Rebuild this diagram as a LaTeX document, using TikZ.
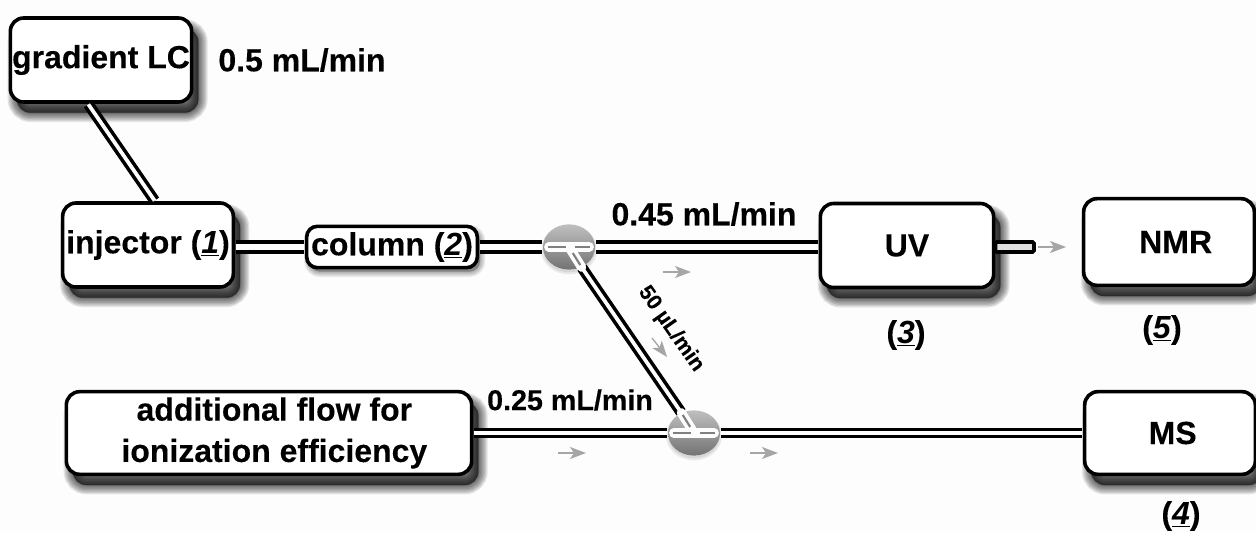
\documentclass[tikz,border=0pt]{standalone}
\usepackage{fontspec}
\setmainfont[BoldFeatures={FakeBold=0.25}]{Liberation Sans}
\usetikzlibrary{arrows.meta,shapes.geometric,calc}
\definecolor{pagebg}{HTML}{FDFDFD}
\tikzset{
  sh/.style={preaction={draw=black,fill=black,line width=#1,opacity=.1,transform canvas={shift={(5pt,-8pt)}}}},
  softshadow/.style={sh=14pt,sh=12pt,sh=10pt,sh=8pt,sh=6pt,sh=4pt,sh=2pt,sh=1pt},
  smallsh/.style={preaction={draw=black,fill=black,line width=#1,opacity=.08,transform canvas={shift={(2pt,-3pt)}}}},
  smallshadow/.style={smallsh=8pt,smallsh=6pt,smallsh=4pt,smallsh=2pt},
  boxnode/.style={softshadow,draw=black,fill=white,line width=2.7pt,rounded corners=10pt,inner sep=0pt,
    font=\fontsize{24}{31}\selectfont\bfseries,align=center},
  label/.style={font=\fontsize{24}{28}\selectfont\bfseries,inner sep=0pt},
  pipe/.style={draw=black,line width=3pt,double=white,double distance=4.2pt,shorten >=.5pt,shorten <=.5pt},
  thinpipe/.style={draw=black,line width=2.7pt,double=white,double distance=2.8pt,shorten >=.5pt,shorten <=.5pt},
  splitter/.style={ellipse,minimum width=39pt,minimum height=34pt,inner sep=0pt,draw=none,
    top color=gray!50,bottom color=gray!90!black,
    preaction={draw=black,fill=black,line width=3pt,opacity=.08,transform canvas={shift={(0pt,-2pt)}}}},
  bandwhite/.style={draw=pagebg,line width=7pt,line cap=round},
  bandgrey/.style={draw=gray,line width=1.6pt},
  flow/.style={draw=gray!70,line width=1pt,-{Stealth[length=12pt,width=9pt,inset=3pt]}},
}
\begin{document}
\begin{tikzpicture}[x=0.75pt,y=-0.75pt]
\useasboundingbox[fill=pagebg] (0,0) rectangle (1256,532);
% boxes
\node[boxnode,minimum width=136pt,minimum height=63pt] (grad) at (101,60) {gradient LC};
\node[boxnode,minimum width=128pt,minimum height=63pt] (inj) at (148,245) {injector (\underline{\textit{1}})};
\node[draw=black,fill=white,smallshadow,line width=2.7pt,rounded corners=8pt,inner sep=0pt,font=\fontsize{24}{31}\selectfont\bfseries,minimum width=128pt,minimum height=31pt] (col) at (392,247) {column (\underline{\textit{2}})};
\node[boxnode,minimum width=130pt,minimum height=63pt] (uv) at (907,245.5) {UV};
\node[boxnode,minimum width=128pt,minimum height=65pt] (nmr) at (1169,242) {\hspace*{10pt}NMR};
\node[boxnode,minimum width=128pt,minimum height=62pt] (ms) at (1170,433) {\hspace*{4pt}MS};
\node[boxnode,minimum width=304pt,minimum height=62pt] (add) at (269,433) {\hspace*{8pt}additional flow for\\ \hspace*{8pt}ionization efficiency};
% splitters
\node[splitter] (s1) at (569,247) {};
\node[splitter] (s2) at (694,433) {};
% pipes
\draw[thinpipe] ($(grad.south)+(-13,0)$) -- ($(inj.north)+(7,0)$);
\draw[pipe] (inj.east |- col.east) -- (col.west);
\draw[pipe] (col.east) -- (s1.west);
\draw[pipe] (s1.east) -- (uv.west |- s1.east);
\draw[thinpipe] (s1.-58) -- (s2.122);
\draw[thinpipe] (add.east |- s2.west) -- (s2.west);
\draw[thinpipe] (s2.east) -- (ms.west |- s2.east);
% stub from UV
\coordinate (stubend) at (1034,247);
\draw[line width=2.7pt,fill=gray!25,rounded corners=1pt] (uv.east |- stubend) ++(0,-5) rectangle ($(stubend)+(0,5)$);
% splitter bands
\draw[bandwhite] (s1.center) -- (s1.-58);
\draw[bandgrey] ($(s1.center)!0.3!(s1.-58)$) -- ($(s1.center)!0.9!(s1.-58)$);
\draw[bandwhite] ($(s1.west)+(6,0)$) -- ($(s1.east)+(-6,0)$);
\draw[bandgrey] ($(s1.west)+(5,0)$) -- ($(s1.center)+(-3,0)$);
\draw[bandgrey] ($(s1.center)+(6,0)$) -- ($(s1.east)+(-5,0)$);
\draw[bandwhite] (s2.center) -- (s2.122);
\draw[bandgrey] ($(s2.center)!0.3!(s2.122)$) -- ($(s2.center)!0.9!(s2.122)$);
\draw[bandwhite] ($(s2.west)+(6,0)$) -- ($(s2.east)+(-6,0)$);
\draw[bandgrey] ($(s2.west)+(5,0)$) -- ($(s2.center)+(-3,0)$);
\draw[bandgrey] ($(s2.center)+(6,0)$) -- ($(s2.east)+(-5,0)$);
% flow arrows
\coordinate (a1s) at (663,272); \coordinate (a1e) at (691,272);
\coordinate (a2s) at (652,338); \coordinate (a2e) at (667,357);
\coordinate (a3s) at (558,453); \coordinate (a3e) at (586,453);
\coordinate (a4s) at (750,453); \coordinate (a4e) at (778,453);
\coordinate (a5s) at (1038,247); \coordinate (a5e) at (1066,247);
\draw[flow] (a1s) -- (a1e);
\draw[flow] (a2s) -- (a2e);
\draw[flow] (a3s) -- (a3e);
\draw[flow] (a4s) -- (a4e);
\draw[flow] (a5s) -- (a5e);
% labels
\node[label] (l1) at (302,60) {0.5 mL/min};
\node[label] (l2) at (704,214) {0.45 mL/min};
\node[label,font=\fontsize{21.5}{25}\selectfont\bfseries] (l3) at (570,400) {0.25 mL/min};
\node[label,font=\fontsize{16}{19}\selectfont\bfseries,rotate=-55] (l4) at (671,329) {50 µL/min};
\node[label] (l5) at (906,335) {(\underline{\textit{3}})};
\node[label] (l6) at (1162,330) {(\underline{\textit{5}})};
\node[label] (l7) at (1181,516) {(\underline{\textit{4}})};
\end{tikzpicture}
\end{document}
